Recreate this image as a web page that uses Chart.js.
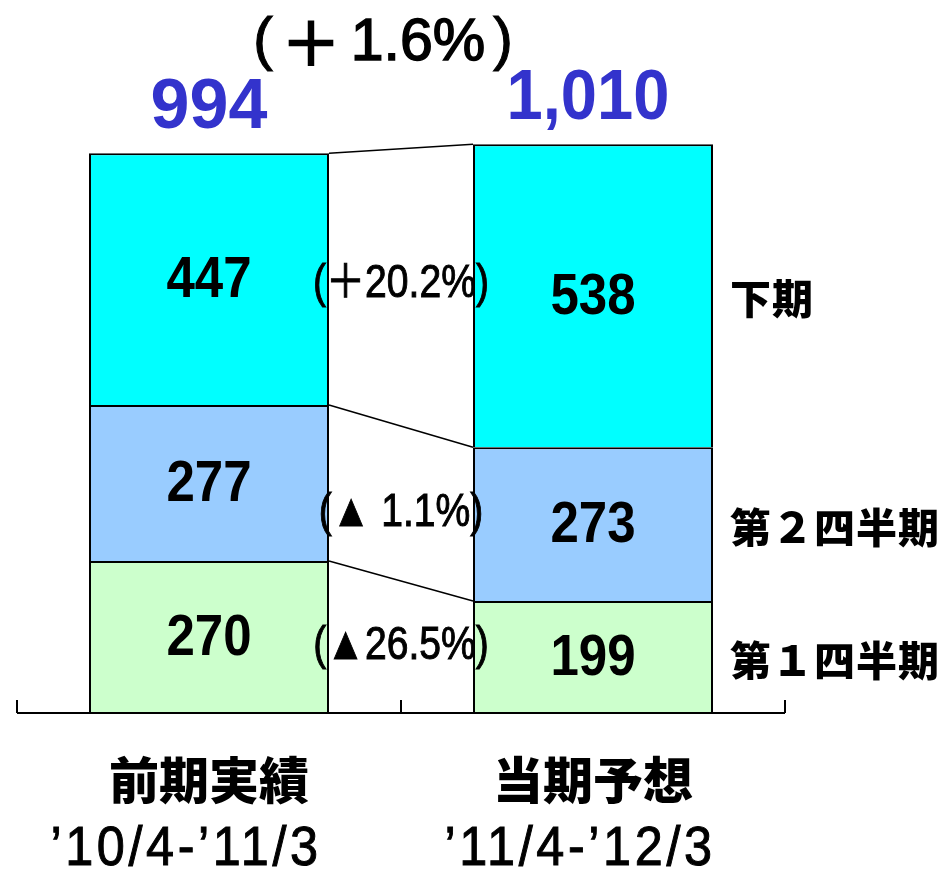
<!DOCTYPE html>
<html>
<head>
<meta charset="utf-8">
<script src="https://cdn.jsdelivr.net/npm/chart.js@4/dist/chart.umd.min.js"></script>
<style>
  html, body { margin: 0; padding: 0; background: #fff; }
  #wrap { width: 943px; height: 872px; }
</style>
</head>
<body>
<div id="wrap"><canvas id="chart"></canvas></div>
<script>
const categories = ["前期実績", "当期予想"];
const periods = ["’10/4-’11/3", "’11/4-’12/3"];
const seriesNames = ["第１四半期", "第２四半期", "下期"];
const q1 = [270, 199];
const q2 = [277, 273];
const h2 = [447, 538];
const changes = ["(▲26.5%)", "(▲ 1.1%)", "(＋20.2%)"];
const totalChange = "1.6%";
const colors = ["#CCFFCC", "#99CCFF", "#00FFFF"];

const NUM = "'Liberation Sans', Arial, 'Noto Sans CJK JP', sans-serif";
const JP = "'Noto Sans CJK JP', sans-serif";

// draw text, optionally squeezed horizontally (the original uses a narrow gothic face)
// and thickened with a thin outline
function text(ctx, str, x, y, font, color, align, sx, thick, spacing) {
  ctx.save();
  ctx.font = font;
  ctx.fillStyle = color || "#000";
  ctx.strokeStyle = color || "#000";
  ctx.textAlign = align || "center";
  ctx.textBaseline = "middle";
  ctx.letterSpacing = spacing || "0px";
  ctx.translate(x, y);
  ctx.scale(sx || 1, 1);
  ctx.fillText(str, 0, 0);
  if (thick) {
    ctx.lineWidth = thick;
    ctx.strokeText(str, 0, 0);
  }
  ctx.restore();
}

const annotations = {
  id: "annotations",
  afterDatasetsDraw(chart) {
    const ctx = chart.ctx;
    const xs = chart.scales.x;
    const ys = chart.scales.y;
    const area = chart.chartArea;
    const metas = [0, 1, 2].map((d) => chart.getDatasetMeta(d));
    ctx.save();

    // lines joining the segment tops of the two bars
    ctx.strokeStyle = "#000";
    ctx.lineWidth = 1.5;
    metas.forEach((m) => {
      const a = m.data[0], b = m.data[1];
      ctx.beginPath();
      ctx.moveTo(a.x + a.width / 2, a.y);
      ctx.lineTo(b.x - b.width / 2, b.y);
      ctx.stroke();
    });

    // base line with upward ticks
    const y0 = ys.getPixelForValue(0);
    ctx.lineWidth = 2;
    ctx.beginPath();
    ctx.moveTo(area.left, y0);
    ctx.lineTo(area.right, y0);
    [-0.5, 0.5, 1.5].forEach((v) => {
      const px = xs.getPixelForValue(v);
      ctx.moveTo(px, y0);
      ctx.lineTo(px, y0 - 13);
    });
    ctx.stroke();

    // values inside the segments
    metas.forEach((m) => {
      m.data.forEach((el, i) => {
        const cy = (el.y + el.base) / 2 + 2;
        text(ctx, String(chart.data.datasets[m.index].data[i]), el.x, cy, "bold 58px " + NUM, "#000", "center", 0.88);
      });
    });

    // totals above the bars
    categories.forEach((c, i) => {
      const total = q1[i] + q2[i] + h2[i];
      const top = metas[2].data[i];
      text(ctx, total.toLocaleString("en-US"), top.x - (i ? 5 : 0), top.y - 44, "bold 70px " + NUM, "#3333CC", "center", i ? 0.93 : 1);
    });

    // change rates between the bars
    const mid = xs.getPixelForValue(0.5);
    metas.forEach((m, k) => {
      const r = m.data[1];
      text(ctx, changes[k], mid, (r.y + r.base) / 2 - 11, "46px " + NUM, "#000", "center", 0.85, 1);
    });
    const tc = mid - 18;
    text(ctx, "(", tc - 120, 42, "60px " + NUM, "#000", "center", 1, 1);
    text(ctx, "＋", tc - 72, 43, "58px " + JP, "#000", "center", 1, 2.5);
    text(ctx, totalChange, tc + 35, 44, "59px " + NUM, "#000", "center", 1, 1.5);
    text(ctx, ")", tc + 120, 42, "60px " + NUM, "#000", "center", 1, 1);

    // series names at the right
    metas.forEach((m, k) => {
      const r = m.data[1];
      text(ctx, seriesNames[k], r.x + r.width / 2 + 17, (r.y + r.base) / 2 + 3, "900 41px " + JP, "#000", "left", 1, 0, "1px");
    });

    // category names and periods
    categories.forEach((c, i) => {
      const px = xs.getPixelForValue(i);
      text(ctx, c, px, area.bottom + 67, "900 50px " + JP);
      text(ctx, periods[i], px - (i ? 13 : 23), area.bottom + 137, "56px " + NUM, "#000", "center", 0.9, 1, "4px");
    });
    ctx.restore();
  },
};

new Chart(document.getElementById("chart"), {
  type: "bar",
  data: {
    labels: categories,
    datasets: [
      { label: seriesNames[0], data: q1, backgroundColor: colors[0] },
      { label: seriesNames[1], data: q2, backgroundColor: colors[1] },
      { label: seriesNames[2], data: h2, backgroundColor: colors[2] },
    ].map((d) => ({ ...d, borderColor: "#000", borderWidth: 2, barPercentage: 0.625, categoryPercentage: 1 })),
  },
  options: {
    responsive: true,
    maintainAspectRatio: false,
    animation: false,
    layout: { padding: { left: 17, right: 158, top: 0, bottom: 159 } },
    scales: {
      x: { stacked: true, display: false },
      y: { stacked: true, display: false, min: 0, max: 1266 },
    },
    plugins: { legend: { display: false }, tooltip: { enabled: false } },
  },
  plugins: [annotations],
});
</script>
</body>
</html>
